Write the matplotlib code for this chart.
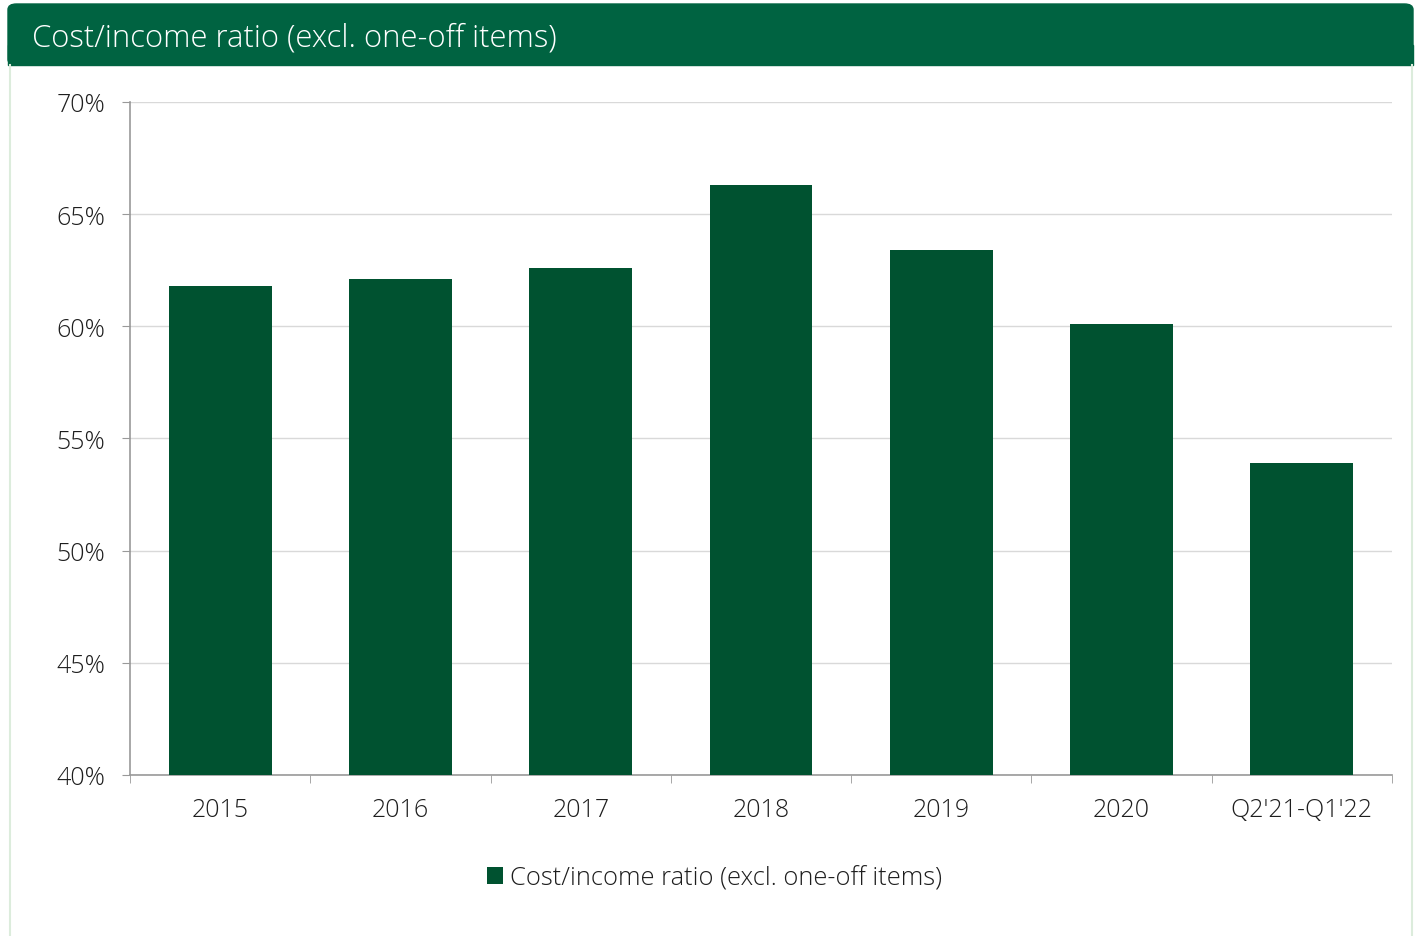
import matplotlib
matplotlib.use("Agg")
import matplotlib.pyplot as plt
from matplotlib.patches import FancyBboxPatch, Rectangle
from matplotlib.lines import Line2D
import numpy as np

categories = ["2015", "2016", "2017", "2018", "2019", "2020", "Q2'21-Q1'22"]
ratios = [61.8, 62.1, 62.6, 66.3, 63.4, 60.1, 53.9]
yticks = [40, 45, 50, 55, 60, 65, 70]
title = "Cost/income ratio (excl. one-off items)"
series_name = "Cost/income ratio (excl. one-off items)"

plt.rcParams["font.family"] = ["Open Sans", "DejaVu Sans"]
plt.rcParams["font.weight"] = "light"

W, H = 1415, 937
fig = plt.figure(figsize=(W / 100, H / 100), dpi=100)

# header band and light frame
header_green = "#006341"
fig.patches.append(FancyBboxPatch((8 / W, 1 - 66 / H), 1405 / W, 61 / H,
                                  boxstyle="round,pad=0,rounding_size=0.006",
                                  transform=fig.transFigure, color=header_green,
                                  zorder=0))
fig.patches.append(Rectangle((8 / W, 1 - 66 / H), 1405 / W, 20 / H,
                             transform=fig.transFigure, color=header_green, zorder=0))
for x in (9.5, 1412):
    fig.add_artist(Line2D([x / W, x / W], [0, 1 - 66 / H], transform=fig.transFigure,
                          color="#dcecdc", lw=1.5))
fig.text(32 / W, 1 - 39 / H, title, color="white", fontsize=22.3,
         va="center", ha="left")

# plot area
ax = fig.add_axes([130 / W, 1 - 776 / H, (1392 - 130) / W, (776 - 103) / H])
x = np.arange(len(categories))
ax.bar(x, ratios, width=0.57, color="#005230", zorder=3, label=series_name)

ax.set_ylim(40, 70)
ax.set_xlim(-0.5, len(categories) - 0.5)
ax.set_yticks(yticks)
ax.set_yticklabels([f"{v}%" for v in yticks])
ax.grid(axis="y", color="#d9d9d9", lw=1, zorder=0)

ax.set_xticks(x)
ax.set_xticklabels(categories)
ax.set_xticks(np.arange(-0.5, len(categories)), minor=True)
ax.tick_params(axis="x", which="major", length=0, pad=16, labelsize=18, colors="#1e1e1e")
ax.tick_params(axis="x", which="minor", length=6, color="#999999", direction="out")
ax.tick_params(axis="y", length=6, color="#999999", pad=12, labelsize=18, colors="#1e1e1e")

for side in ("top", "right"):
    ax.spines[side].set_visible(False)
for side in ("left", "bottom"):
    ax.spines[side].set_color("#999999")
    ax.spines[side].set_linewidth(1.2)

fig.legend(loc="center", bbox_to_anchor=(715 / W, 1 - 879 / H), frameon=False,
           fontsize=18.4, handlelength=0.6, handleheight=0.6, handletextpad=0.3,
           labelcolor="#1e1e1e")

fig.savefig("out.png", dpi=100, facecolor="white")
